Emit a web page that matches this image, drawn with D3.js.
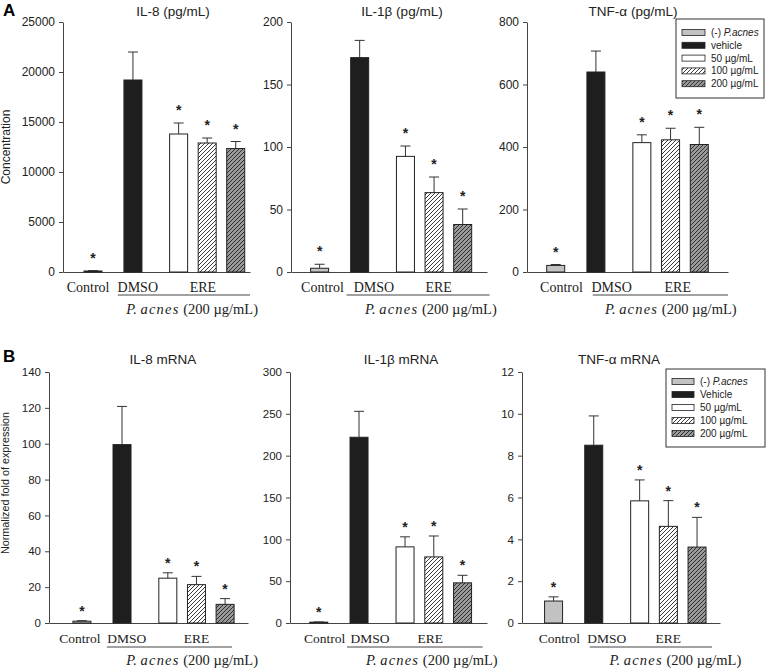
<!DOCTYPE html>
<html>
<head>
<meta charset="utf-8">
<script src="https://cdn.jsdelivr.net/npm/d3@7"></script>
<style>
  body { margin: 0; background: #fff; }
  svg { display: block; }
  .sans { font-family: "Liberation Sans", Arial, sans-serif; }
  .serif { font-family: "Liberation Serif", "Times New Roman", serif; }
</style>
</head>
<body>
<svg id="fig" width="766" height="668"></svg>
<script>
// groups (legend order)
const groupsA = ["(-) P.acnes", "vehicle", "50 µg/mL", "100 µg/mL", "200 µg/mL"];
const groupsB = ["(-) P.acnes", "Vehicle", "50 µg/mL", "100 µg/mL", "200 µg/mL"];
const xLabels = ["Control", "DMSO", "ERE"];
const starred = [true, false, true, true, true];

// A: protein (mean, error)
const il8Prot = [100, 19200, 13800, 12900, 12350];
const il8ProtErr = [40, 2800, 1100, 500, 700];
const il1bProt = [3, 171.5, 92.5, 63.5, 38];
const il1bProtErr = [3.2, 13.8, 8.3, 12.5, 12.4];
const tnfProt = [21, 640, 414, 423, 408];
const tnfProtErr = [3, 67, 25, 37, 55];

// B: mRNA (mean, error)
const il8Mrna = [1, 99.5, 25, 21.4, 10.4];
const il8MrnaErr = [0.3, 21.3, 3, 4.6, 3.2];
const il1bMrna = [1, 222, 91, 79, 48];
const il1bMrnaErr = [0.3, 31, 12, 25, 9];
const tnfMrna = [1.05, 8.5, 5.84, 4.62, 3.63];
const tnfMrnaErr = [0.2, 1.4, 1.0, 1.23, 1.42];

// tick values
const il8ProtTicks = [0, 5000, 10000, 15000, 20000, 25000];
const il1bProtTicks = [0, 50, 100, 150, 200];
const tnfProtTicks = [0, 200, 400, 600, 800];
const il8MrnaTicks = [0, 20, 40, 60, 80, 100, 120, 140];
const il1bMrnaTicks = [0, 50, 100, 150, 200, 250, 300];
const tnfMrnaTicks = [0, 2, 4, 6, 8, 10, 12];

// layout
const slots = [0, 1.4, 3, 4, 5];   // bar positions in slot units
const barW = 18;
const fills = ["#c2c2c2", "#1e1e1e", "#ffffff", "url(#hatchW)", "url(#hatchG)"];

const rowA = { top: 22, bottom: 272, titleY: 16, labY: 292, lineY: 295, pY: 314, star: 8, tickFont: 12, catFont: 14 };
const rowB = { top: 372, bottom: 623, titleY: 364, labY: 643, lineY: 647, pY: 665, star: 5, tickFont: 11.5, catFont: 13.5 };

const panels = [
  { row: rowA, left: 63, right: 250, dom: [-1.05, 5.5], title: "IL-8 (pg/mL)", tx: 173,
    mean: il8Prot, err: il8ProtErr, ticks: il8ProtTicks, lab: [-0.17, 1.57, 3.85], line: [0.87, 5.5], pr: 5.78 },
  { row: rowA, left: 291, right: 487, dom: [-1.0, 5.85], title: "IL-1β (pg/mL)", tx: 402,
    mean: il1bProt, err: il1bProtErr, ticks: il1bProtTicks, lab: [0.1, 1.9, 4.16], line: [0.94, 5.94], pr: 6.19 },
  { row: rowA, left: 527, right: 728, dom: [-1.0, 6.0], title: "TNF-α (pg/mL)", tx: 633,
    mean: tnfProt, err: tnfProtErr, ticks: tnfProtTicks, lab: [0.2, 1.95, 4.25], line: [1.29, 6.0], pr: 6.3 },
  { row: rowB, left: 49, right: 248, dom: [-1.15, 5.8], title: "IL-8 mRNA", tx: 163,
    mean: il8Mrna, err: il8MrnaErr, ticks: il8MrnaTicks, lab: [-0.07, 1.57, 4.0], line: [0.87, 5.24], pr: 6.15 },
  { row: rowB, left: 290, right: 487, dom: [-1.0, 5.85], title: "IL-1β mRNA", tx: 401,
    mean: il1bMrna, err: il1bMrnaErr, ticks: il1bMrnaTicks, lab: [0.2, 1.78, 3.88], line: [0.98, 5.7], pr: 6.22 },
  { row: rowB, left: 522, right: 720, dom: [-1.1, 5.8], title: "TNF-α mRNA", tx: 619,
    mean: tnfMrna, err: tnfMrnaErr, ticks: tnfMrnaTicks, lab: [0.2, 1.85, 4.0], line: [1.26, 5.52], pr: 6.54 }
];

const svg = d3.select("#fig");

// hatch patterns
const defs = svg.append("defs");
[["hatchW", "#ffffff"], ["hatchG", "#9a9a9a"]].forEach(([id, bg]) => {
  const p = defs.append("pattern").attr("id", id)
    .attr("patternUnits", "userSpaceOnUse").attr("width", 4).attr("height", 4);
  p.append("rect").attr("width", 4).attr("height", 4).attr("fill", bg);
  p.append("path").attr("d", "M-1,1 l2,-2 M0,4 l4,-4 M3,5 l2,-2")
    .attr("stroke", "#222").attr("stroke-width", 0.9);
});

panels.forEach(p => {
  const r = p.row;
  const x = d3.scaleLinear().domain(p.dom).range([p.left, p.right]);
  const y = d3.scaleLinear().domain([0, d3.max(p.ticks)]).range([r.bottom, r.top]);
  const g = svg.append("g");

  // axes
  const yAx = g.append("g").attr("class", "sans")
    .attr("transform", `translate(${p.left},0)`)
    .call(d3.axisLeft(y).tickValues(p.ticks).tickSize(4).tickPadding(4).tickSizeOuter(0).tickFormat(d3.format("d")));
  yAx.selectAll("path,line").attr("stroke", "#444");
  yAx.selectAll("text").attr("fill", "#222").style("font-size", r.tickFont + "px")
    .style("font-family", "'Liberation Sans', Arial, sans-serif");

  const xAx = g.append("g").attr("transform", `translate(0,${r.bottom})`)
    .call(d3.axisBottom(x).tickValues([]).tickSizeOuter(0));
  xAx.select("path").attr("stroke", "#444");

  // bars
  g.selectAll("rect.bar").data(p.mean).enter().append("rect")
    .attr("class", "bar")
    .attr("x", (d, i) => x(slots[i]) - barW / 2)
    .attr("width", barW)
    .attr("y", d => y(d))
    .attr("height", d => r.bottom - y(d))
    .attr("fill", (d, i) => fills[i])
    .attr("stroke", "#222").attr("stroke-width", 1);

  // error bars (upper only)
  const eb = g.selectAll("g.err").data(p.mean).enter().append("g")
    .attr("stroke", "#333").attr("stroke-width", 1);
  eb.append("line")
    .attr("x1", (d, i) => x(slots[i])).attr("x2", (d, i) => x(slots[i]))
    .attr("y1", d => y(d)).attr("y2", (d, i) => y(d + p.err[i]));
  eb.append("line")
    .attr("x1", (d, i) => x(slots[i]) - 5).attr("x2", (d, i) => x(slots[i]) + 5)
    .attr("y1", (d, i) => y(d + p.err[i])).attr("y2", (d, i) => y(d + p.err[i]));

  // significance stars
  g.selectAll("text.star").data(p.mean).enter().filter((d, i) => starred[i])
    .append("text").attr("class", "sans")
    .attr("x", (d, i) => x(slots[p.mean.indexOf(d)]))
    .attr("y", d => y(d + p.err[p.mean.indexOf(d)]) - r.star)
    .attr("text-anchor", "middle").attr("font-size", 14).attr("font-weight", "bold")
    .attr("fill", "#222").text("*");

  // title
  g.append("text").attr("class", "sans").attr("x", p.tx).attr("y", r.titleY)
    .attr("text-anchor", "middle").attr("font-size", 13.5).attr("fill", "#222").text(p.title);

  // category labels
  xLabels.forEach((t, i) => {
    g.append("text").attr("class", "serif").attr("x", x(p.lab[i])).attr("y", r.labY)
      .attr("text-anchor", "middle").attr("font-size", r.catFont).attr("fill", "#222").text(t);
  });
  g.append("line").attr("x1", x(p.line[0])).attr("x2", x(p.line[1]))
    .attr("y1", r.lineY).attr("y2", r.lineY).attr("stroke", "#444");

  const pt = g.append("text").attr("class", "serif").attr("x", x(p.pr)).attr("y", r.pY)
    .attr("text-anchor", "end").attr("font-size", 14.5).attr("fill", "#222");
  pt.append("tspan").attr("font-style", "italic").text("P. ");
  pt.append("tspan").attr("font-style", "italic").attr("letter-spacing", 1.2).text("acnes");
  pt.append("tspan").text(" (200 µg/mL)");
});

// panel letters
svg.append("text").attr("class", "sans").attr("x", 3).attr("y", 16)
  .attr("font-size", 17).attr("font-weight", "bold").text("A");
svg.append("text").attr("class", "sans").attr("x", 3).attr("y", 362)
  .attr("font-size", 17).attr("font-weight", "bold").text("B");

// y-axis titles
svg.append("text").attr("class", "sans").attr("transform", "translate(10,147) rotate(-90)")
  .attr("text-anchor", "middle").attr("font-size", 12).attr("fill", "#222").text("Concentration");
svg.append("text").attr("class", "sans").attr("transform", "translate(9,483) rotate(-90)")
  .attr("text-anchor", "middle").attr("font-size", 10.8).attr("fill", "#222").text("Normalized fold of expression");

// legends
function legend(labels, box, sw, tx, y0, dy) {
  const lg = svg.append("g").attr("class", "sans");
  lg.append("rect").attr("x", box[0]).attr("y", box[1])
    .attr("width", box[2] - box[0]).attr("height", box[3] - box[1])
    .attr("fill", "#fff").attr("stroke", "#333");
  labels.forEach((t, i) => {
    const cy = y0 + i * dy;
    lg.append("rect").attr("x", sw[0]).attr("y", cy - 3).attr("width", sw[1] - sw[0]).attr("height", 6)
      .attr("fill", fills[i]).attr("stroke", "#222").attr("stroke-width", 0.8);
    const tt = lg.append("text").attr("x", tx).attr("y", cy + 3.5).attr("font-size", 10).attr("fill", "#222");
    if (i === 0) {
      tt.append("tspan").text("(-) ");
      tt.append("tspan").attr("font-style", "italic").text("P.acnes");
    } else {
      tt.text(t);
    }
  });
}
legend(groupsA, [676, 19, 764, 98], [682, 705], 711, 32.5, 12.8);
legend(groupsB, [666, 369, 765, 447], [672, 694], 700, 381.5, 13);
</script>
</body>
</html>
